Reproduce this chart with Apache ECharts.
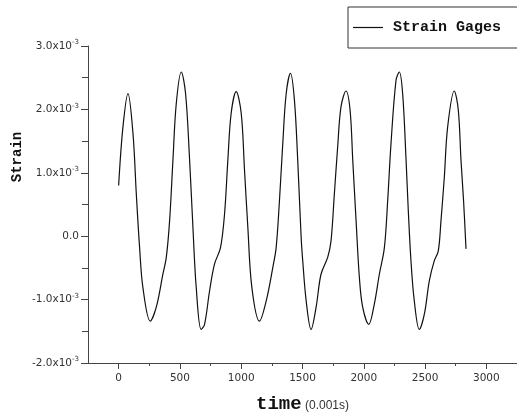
<!DOCTYPE html>
<html>
<head>
<meta charset="utf-8">
<script src="https://cdn.jsdelivr.net/npm/echarts@6/dist/echarts.min.js"></script>
<style>html,body{margin:0;padding:0;background:#fff;}#c{width:517px;height:416px;}</style>
</head>
<body>
<div id="c"></div>
<script>
// time in units of 0.001 s
var times = [0,35,76,117,144,171,198,258,307,361,389,416,443,470,511,546,579,606,633,673,701,742,782,831,864,891,918,959,1000,1027,1054,1087,1149,1204,1258,1285,1312,1339,1367,1402,1434,1461,1489,1502,1530,1570,1611,1651,1706,1733,1760,1787,1814,1855,1888,1910,1937,1964,1991,2041,2086,2127,2168,2195,2222,2263,2290,2317,2345,2363,2385,2412,2453,2494,2535,2575,2608,2630,2657,2684,2738,2771,2793,2814,2834];
// strain in units of 1e-3
var strain = [0.80,1.72,2.25,1.62,0.67,-0.18,-0.81,-1.34,-1.12,-0.60,-0.33,0.25,1.20,2.09,2.59,2.25,1.20,0.14,-0.81,-1.47,-1.39,-0.86,-0.44,-0.18,0.35,1.20,1.94,2.28,1.94,1.04,0.14,-0.81,-1.34,-1.02,-0.49,-0.18,0.56,1.46,2.25,2.57,2.15,1.20,-0.02,-0.39,-1.02,-1.47,-1.12,-0.60,-0.33,-0.07,0.67,1.41,2.04,2.29,1.99,1.20,0.25,-0.65,-1.12,-1.39,-1.07,-0.60,-0.18,0.56,1.46,2.46,2.59,2.25,1.20,0.41,-0.39,-1.02,-1.47,-1.23,-0.70,-0.39,-0.23,0.25,0.93,1.72,2.29,1.99,1.20,0.56,-0.20];
var xMajorTicks = [0,500,1000,1500,2000,2500,3000];
var xMinorTicks = [250,750,1250,1750,2250,2750,3250];
var seriesName = 'Strain Gages';

var pts = times.map(function(t,i){return [t, strain[i]];});
var chart = echarts.init(document.getElementById('c'), null, {renderer:'canvas'});
var axisCol = '#444';
chart.setOption({
  animation:false,
  backgroundColor:'#fff',
  grid:{left:88,right:0,top:46,bottom:53,containLabel:false,outerBoundsMode:'none'},
  legend:{
    data:[{name:seriesName, icon:'rect'}], left:348, top:7,
    padding:[13,40,13,5], borderColor:'#333', borderWidth:1,
    itemWidth:30, itemHeight:1.2,
    itemStyle:{color:'#111', borderWidth:0},
    textStyle:{fontFamily:'Liberation Mono',fontWeight:'bold',fontSize:15,color:'#111',padding:[0,0,0,5],lineHeight:15}
  },
  xAxis:[{
    type:'value', min:-250, max:3250, interval:250,
    axisLine:{show:true,onZero:false,lineStyle:{color:axisCol,width:1}},
    axisTick:{show:true,customValues:xMajorTicks,length:6,lineStyle:{color:axisCol}},
    axisLabel:{customValues:xMajorTicks,fontFamily:'DejaVu Sans',fontSize:10.5,color:'#333',margin:10,
      formatter:function(v){return String(v);}},
    splitLine:{show:false},
    name:'{a|time}{b| (0.001s)}', nameLocation:'middle', nameGap:32,
    nameTextStyle:{rich:{
      a:{fontFamily:'Liberation Mono',fontWeight:'bold',fontSize:19,color:'#111'},
      b:{fontFamily:'Liberation Sans',fontSize:12,color:'#333',padding:[3,0,0,0]}
    }}
  },{
    type:'value', min:-250, max:3250, interval:250, position:'bottom',
    axisLine:{show:false,onZero:false},
    axisTick:{show:true,customValues:xMinorTicks,length:3,lineStyle:{color:axisCol}},
    axisLabel:{show:false}, splitLine:{show:false}
  }],
  yAxis:{
    type:'value', min:-2, max:3, interval:1,
    axisLine:{show:true,onZero:false,lineStyle:{color:axisCol,width:1}},
    axisTick:{show:true,length:7,lineStyle:{color:axisCol}},
    minorTick:{show:true,splitNumber:2,length:6,lineStyle:{color:axisCol}},
    splitLine:{show:false},
    axisLabel:{
      margin:9, color:'#333',
      formatter:function(v){
        if (Math.abs(v) < 1e-9) return '{m|0.0}';
        return '{m|' + v.toFixed(1) + 'x10}{s|-3}';
      },
      rich:{
        m:{fontFamily:'DejaVu Sans',fontSize:10.5,color:'#333'},
        s:{fontFamily:'DejaVu Sans',fontSize:7,color:'#333',padding:[0,0,7,0]}
      }
    }
  },
  graphic:[{
    type:'text', x:17, y:157, rotation:Math.PI/2,
    style:{text:'Strain', fontFamily:'Liberation Mono', fontWeight:'bold', fontSize:14, fill:'#111', align:'center', verticalAlign:'middle'}
  }],
  series:[{
    name:seriesName, type:'line', data:pts, xAxisIndex:0,
    symbol:'none', showSymbol:false, smooth:0.35,
    lineStyle:{color:'#111',width:1.2}, itemStyle:{color:'#111'}
  }]
});
</script>
</body>
</html>
